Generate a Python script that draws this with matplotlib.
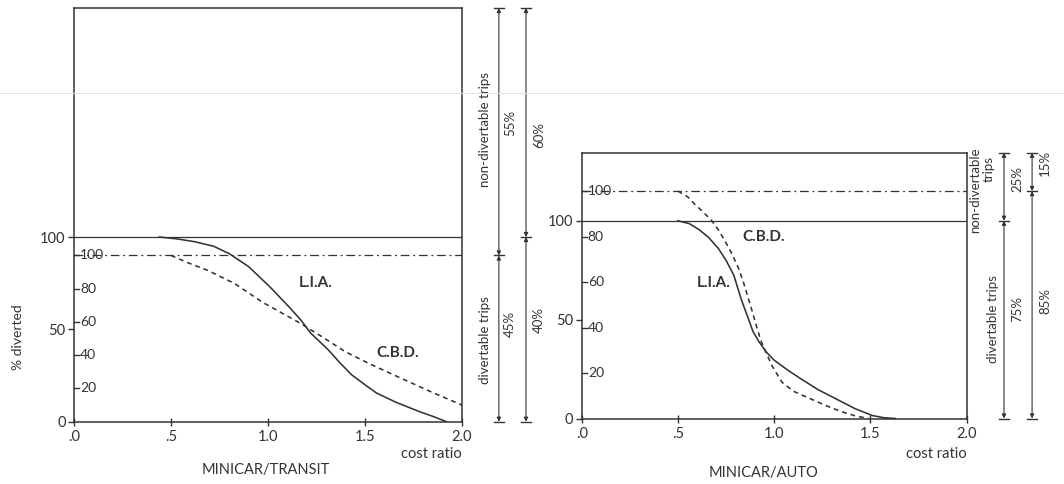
import matplotlib
matplotlib.use('Agg')
import matplotlib.pyplot as plt
import matplotlib.transforms as mtransforms
from matplotlib.lines import Line2D

plt.rcParams['font.family'] = ['Lato', 'DejaVu Sans']

INK = '#333333'

# cost ratio ticks
x_ticks = [0, 0.5, 1.0, 1.5, 2.0]
x_labels = ['.0', '.5', '1.0', '1.5', '2.0']
outer_ticks = [0, 50, 100]
inner_ticks = [20, 40, 60, 80, 100]

# MINICAR/TRANSIT  (L.I.A. on the outer scale, C.B.D. on the inner scale)
lia_transit_x = [0.44, 0.53, 0.62, 0.72, 0.80, 0.90, 1.01, 1.11, 1.17, 1.22, 1.31,
                 1.37, 1.43, 1.50, 1.56, 1.66, 1.78, 1.86, 1.92]
lia_transit_y = [100, 99, 97.5, 95, 91, 84, 73, 62, 55, 48, 39,
                 32, 25.5, 20, 15.5, 10.5, 5.5, 2.5, 0]
cbd_transit_x = [0.50, 0.59, 0.69, 0.76, 0.83, 0.90, 0.97, 1.07, 1.17, 1.28, 1.40,
                 1.53, 1.67, 1.84, 2.00]
cbd_transit_y = [100, 95.5, 91, 87, 83, 77.5, 72, 65.5, 59, 51, 42,
                 34.5, 27, 18, 10]
cbd_scale_transit = 0.9
top_transit = 224
split_transit = [('55%', '45%'), ('60%', '40%')]

# MINICAR/AUTO
lia_auto_x = [0.50, 0.56, 0.61, 0.66, 0.71, 0.75, 0.79, 0.83, 0.86, 0.89, 0.92,
              0.96, 1.00, 1.07, 1.14, 1.23, 1.32, 1.42, 1.51, 1.57, 1.63]
lia_auto_y = [100, 98.5, 95.5, 91.5, 86, 80, 72.5, 60, 52, 44, 39,
              33.5, 29.5, 24.5, 20, 14.5, 10, 5, 1.5, 0.4, 0]
cbd_auto_x = [0.50, 0.55, 0.59, 0.635, 0.675, 0.71, 0.745, 0.78, 0.815, 0.84, 0.865,
              0.89, 0.91, 0.93, 0.955, 0.99, 1.04, 1.10, 1.18, 1.26, 1.35, 1.42, 1.49]
cbd_auto_y = [100, 97.5, 94, 90.5, 87, 83, 78, 72.5, 66, 60, 53,
              46, 40, 34.5, 29.5, 23, 16, 12, 9, 6, 3, 1.2, 0]
cbd_scale_auto = 1.15
top_auto = 134.4
split_auto = [('25%', '75%'), ('15%', '85%')]


def draw_panel(ax, lia_x, lia_y, cbd_x, cbd_y, scale, ytop):
    ax.set_xlim(0, 2)
    ax.set_ylim(0, ytop)
    ax.axhline(100, color=INK, lw=0.9)
    ax.axhline(100 * scale, color=INK, lw=0.9, dashes=(7, 3, 1.5, 3))
    ax.plot(lia_x, lia_y, color=INK, lw=1.15, solid_joinstyle='round')
    ax.plot(cbd_x, [v * scale for v in cbd_y], color=INK, lw=1.15, dashes=(3, 2.5))

    ax.set_xticks(x_ticks)
    ax.set_xticklabels(x_labels)
    ax.set_yticks(outer_ticks)
    ax.tick_params(axis='x', direction='inout', length=6, width=1, pad=3,
                   labelsize=10.5, colors=INK)
    ax.tick_params(axis='y', direction='out', length=4, width=1, pad=2,
                   labelsize=10.5, colors=INK)
    for s in ax.spines.values():
        s.set_linewidth(1.1)
        s.set_color(INK)

    # inner scale for C.B.D.
    blend = mtransforms.blended_transform_factory(ax.transAxes, ax.transData)
    for v in inner_ticks:
        y = v * scale
        ax.plot([0, 0.013], [y, y], transform=blend, color=INK, lw=1, clip_on=False)
        ax.text(0.016, y, str(v), transform=blend, va='center', ha='left',
                fontsize=10, color=INK)
    return blend


def dim_arrow(ax, blend, xa, y_split, ytop):
    for a, b in [(0, y_split), (y_split, ytop)]:
        ax.annotate('', xy=(xa, a), xytext=(xa, b), xycoords=blend, textcoords=blend,
                    arrowprops=dict(arrowstyle='<|-|>', color=INK, lw=0.8,
                                    shrinkA=0, shrinkB=0, mutation_scale=6),
                    annotation_clip=False)
    for y in (0, y_split, ytop):
        ax.plot([xa - 0.012, xa + 0.012], [y, y], transform=blend, color=INK,
                lw=1, clip_on=False)


fig = plt.figure(figsize=(10.64, 4.84), dpi=100)
fig.patch.set_facecolor('white')

# faint scan line across the page
fig.add_artist(Line2D([0, 1], [1 - 93 / 484] * 2, color='#e2e2e2', lw=0.8))

ax1 = fig.add_axes([0.0695, 0.1287, 0.3647, 0.8548])
b1 = draw_panel(ax1, lia_transit_x, lia_transit_y, cbd_transit_x, cbd_transit_y,
                cbd_scale_transit, top_transit)
ax1.set_ylabel('% diverted', fontsize=10, color=INK)
ax1.yaxis.set_label_coords(-0.13, 0.205)
ax1.text(1.245, 75, 'L.I.A.', ha='center', va='center', fontsize=11,
         fontweight='bold', color=INK)
ax1.text(1.67, 37, 'C.B.D.', ha='center', va='center', fontsize=11,
         fontweight='bold', color=INK)
ax1.text(0.495, -0.117, 'MINICAR/TRANSIT', transform=ax1.transAxes, ha='center',
         va='center', fontsize=10.5, color=INK)
ax1.text(1.0, -0.078, 'cost ratio', transform=ax1.transAxes, ha='right',
         va='center', fontsize=10.5, color=INK)

dim_arrow(ax1, b1, 1.095, 100 * cbd_scale_transit, top_transit)
dim_arrow(ax1, b1, 1.165, 100, top_transit)
ax1.text(1.059, 158, 'non-divertable trips', transform=b1, rotation=90,
         ha='center', va='center', fontsize=9.5, color=INK)
ax1.text(1.059, 44, 'divertable trips', transform=b1, rotation=90,
         ha='center', va='center', fontsize=9.5, color=INK)
ax1.text(1.124, 162, split_transit[0][0], transform=b1, rotation=90,
         ha='center', va='center', fontsize=9.5, color=INK)
ax1.text(1.124, 53, split_transit[0][1], transform=b1, rotation=90,
         ha='center', va='center', fontsize=9.5, color=INK)
ax1.text(1.198, 155, split_transit[1][0], transform=b1, rotation=90,
         ha='center', va='center', fontsize=9.5, color=INK)
ax1.text(1.198, 55, split_transit[1][1], transform=b1, rotation=90,
         ha='center', va='center', fontsize=9.5, color=INK)

ax2 = fig.add_axes([0.5467, 0.1353, 0.3618, 0.5492])
b2 = draw_panel(ax2, lia_auto_x, lia_auto_y, cbd_auto_x, cbd_auto_y,
                cbd_scale_auto, top_auto)
ax2.text(0.684, 68.5, 'L.I.A.', ha='center', va='center', fontsize=11,
         fontweight='bold', color=INK)
ax2.text(0.944, 92, 'C.B.D.', ha='center', va='center', fontsize=11,
         fontweight='bold', color=INK)
ax2.text(0.472, -0.205, 'MINICAR/AUTO', transform=ax2.transAxes, ha='center',
         va='center', fontsize=10.5, color=INK)
ax2.text(1.0, -0.135, 'cost ratio', transform=ax2.transAxes, ha='right',
         va='center', fontsize=10.5, color=INK)

dim_arrow(ax2, b2, 1.097, 100, top_auto)
dim_arrow(ax2, b2, 1.17, 100 * cbd_scale_auto, top_auto)
ax2.text(1.022, 115.5, 'non-divertable', transform=b2, rotation=90,
         ha='center', va='center', fontsize=9.5, color=INK)
ax2.text(1.058, 126, 'trips', transform=b2, rotation=90,
         ha='center', va='center', fontsize=9.5, color=INK)
ax2.text(1.068, 50.4, 'divertable trips', transform=b2, rotation=90,
         ha='center', va='center', fontsize=9.5, color=INK)
ax2.text(1.131, 121, split_auto[0][0], transform=b2, rotation=90,
         ha='center', va='center', fontsize=9.5, color=INK)
ax2.text(1.131, 55.4, split_auto[0][1], transform=b2, rotation=90,
         ha='center', va='center', fontsize=9.5, color=INK)
ax2.text(1.204, 129, split_auto[1][0], transform=b2, rotation=90,
         ha='center', va='center', fontsize=9.5, color=INK)
ax2.text(1.204, 59.4, split_auto[1][1], transform=b2, rotation=90,
         ha='center', va='center', fontsize=9.5, color=INK)

fig.savefig('out.png', dpi=100, facecolor='white')
